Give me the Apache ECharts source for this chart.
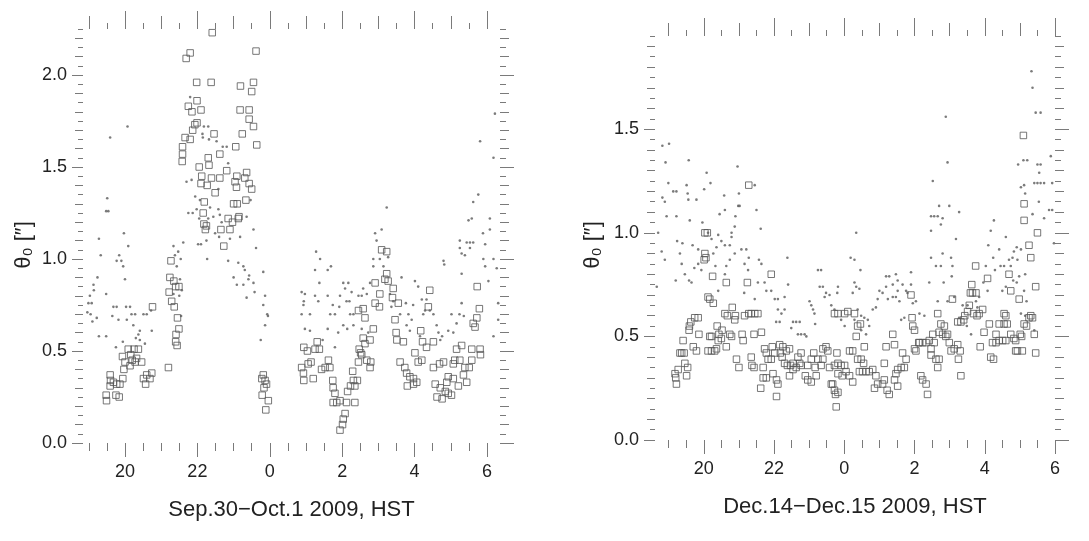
<!DOCTYPE html>
<html>
<head>
<meta charset="utf-8">
<script src="https://cdn.jsdelivr.net/npm/echarts@6/dist/echarts.min.js"></script>
<style>
  html, body { margin: 0; padding: 0; background: #fff; }
  #main { width: 1089px; height: 541px; }
</style>
</head>
<body>
<div id="main"></div>
<script>
// hours after midnight continue past 24 (24 = 0 HST, 30 = 6 HST)
var hourLabels = [20, 22, 24, 26, 28, 30];
var thetaLabels = [0, 0.5, 1.0, 1.5, 2.0];
var panelTitles = ['Sep.30\u2212Oct.1 2009, HST', 'Dec.14\u2212Dec.15 2009, HST'];
var yTitle = '\u03b8\u2080 [\u2033]';

// Sep.30-Oct.1, squares [hour, theta0]
var leftSquares = [
  [22.41,2.23],[21.69,2.09],[21.80,2.12],[21.98,1.96],[22.38,1.96],[21.99,1.86],[21.75,1.83],[22.10,1.81],[21.85,1.80],[21.99,1.74],
  [21.93,1.73],[21.87,1.70],[22.46,1.68],[21.66,1.66],[21.80,1.65],[21.59,1.61],[21.59,1.57],[21.58,1.53],[22.05,1.50],[22.32,1.51],
  [22.62,1.57],[22.30,1.55],[22.12,1.45],[22.39,1.44],[22.62,1.44],[22.81,1.48],[22.10,1.41],[22.27,1.40],[22.49,1.36],[22.19,1.31],
  [22.16,1.25],[22.25,1.18],[22.18,1.19],[22.22,1.16],[22.65,1.16],[22.90,1.16],[22.85,1.22],[22.97,1.20],[22.73,1.07],[23.06,1.61],
  [23.00,1.30],[23.10,1.30],[23.13,1.22],[23.18,1.81],[23.19,1.94],[23.43,1.81],[23.50,1.91],[23.55,1.96],[23.62,2.13],[23.43,1.76],
  [23.55,1.72],[23.24,1.68],[23.64,1.62],[23.09,1.45],[23.36,1.47],[23.31,1.44],[23.43,1.41],[23.50,1.38],[23.34,1.32],[23.04,1.42],
  [23.08,1.39],[23.15,1.23],
  [21.27,0.99],[21.24,0.90],[21.35,0.88],[21.49,0.85],[21.40,0.85],[21.22,0.82],[21.29,0.77],[21.36,0.74],[21.45,0.68],[21.49,0.62],
  [21.41,0.59],[21.40,0.55],[21.44,0.53],[21.20,0.41],
  [19.49,0.23],[19.48,0.26],[19.59,0.37],[19.60,0.34],[19.68,0.33],[19.77,0.32],[19.75,0.26],[19.84,0.25],[19.86,0.32],[19.94,0.35],
  [19.59,0.31],[19.97,0.40],[20.00,0.44],[19.93,0.47],[20.09,0.51],[20.16,0.48],[20.20,0.45],[20.28,0.44],[20.32,0.46],[20.37,0.51],
  [20.46,0.44],[20.51,0.35],[20.60,0.37],[20.69,0.35],[20.74,0.38],[20.57,0.32],[20.76,0.74],[20.25,0.51],[20.14,0.42],
  [23.82,0.37],[23.78,0.35],[23.87,0.34],[23.91,0.32],[23.84,0.30],[23.79,0.26],[23.96,0.23],[23.89,0.18],
  [24.88,0.41],[24.93,0.38],[24.94,0.34],[24.94,0.52],[25.04,0.50],[25.25,0.51],[25.31,0.55],[25.37,0.51],[25.06,0.43],[25.14,0.44],
  [25.20,0.35],[25.43,0.40],[25.53,0.41],[25.62,0.45],[25.66,0.41],[25.74,0.34],[25.75,0.30],[25.80,0.27],[25.75,0.22],[25.85,0.22],
  [25.94,0.23],[25.94,0.07],[26.01,0.10],[26.03,0.13],[26.08,0.16],[26.12,0.22],[26.15,0.28],[26.23,0.31],[26.31,0.34],[26.29,0.39],
  [26.35,0.31],[26.42,0.34],[26.35,0.22],[26.45,0.44],[26.47,0.51],[26.51,0.49],[26.63,0.54],[26.58,0.57],[26.77,0.56],[26.54,0.48],
  [26.68,0.45],[26.79,0.44],[26.77,0.41],[26.45,0.72],[26.58,0.73],[26.63,0.68],[26.86,0.62],[26.91,0.76],[27.03,0.74],[26.91,0.87],
  [27.04,0.81],[27.09,1.05],[27.23,1.04],[27.18,0.89],[27.27,0.88],[27.23,0.92],[27.41,0.84],[27.39,0.79],[27.55,0.76],[27.46,0.67],
  [27.51,0.56],[27.69,0.55],[27.49,0.60],[27.60,0.44],[27.73,0.41],[27.78,0.38],[27.87,0.36],[27.97,0.35],[27.80,0.31],[28.06,0.33],
  [27.97,0.32],[28.01,0.49],[28.10,0.44],[28.20,0.45],[28.17,0.61],[28.22,0.55],[28.33,0.52],[28.42,0.83],[28.38,0.74],[28.52,0.55],
  [28.52,0.41],[28.57,0.32],[28.62,0.25],[28.71,0.30],[28.76,0.24],[28.85,0.28],[28.89,0.33],[28.93,0.27],[29.02,0.26],[28.69,0.43],
  [28.80,0.44],[29.11,0.45],[29.25,0.45],[29.16,0.51],[29.30,0.53],[29.21,0.31],[29.39,0.41],[29.51,0.41],[29.35,0.37],[29.44,0.33],
  [29.58,0.45],[29.58,0.51],[29.62,0.65],[29.67,0.63],[29.72,0.68],[29.79,0.73],[29.73,0.85],[29.81,0.51],[29.82,0.48],[28.93,0.36],
  [29.07,0.35],[29.07,0.43]
];

// Sep.30-Oct.1, dots [hour, theta0]
var leftDots = [
  [19.59,1.66],[20.07,1.72],[19.51,1.33],[19.48,1.26],[19.54,1.26],[19.28,1.11],[19.33,1.02],[19.97,1.14],[20.09,1.07],[19.84,1.02],
  [19.90,0.99],[19.77,0.99],[19.95,0.96],[20.00,0.89],[19.24,0.90],[19.13,0.86],[19.03,0.80],[19.14,0.83],[18.99,0.76],[19.08,0.76],
  [18.96,0.71],[19.05,0.70],[19.22,0.68],[19.10,0.66],[19.28,0.58],[19.48,0.58],[19.48,0.81],[19.68,0.74],[19.77,0.74],[19.65,0.69],
  [19.82,0.67],[19.75,0.52],[20.03,0.74],[20.14,0.74],[20.18,0.70],[20.28,0.70],[20.05,0.67],[20.23,0.64],[20.41,0.61],[20.30,0.57],
  [20.51,0.70],[20.60,0.70],[20.72,0.72],[20.74,0.61],[20.41,0.56],[20.37,0.59],[20.55,0.54],[19.94,0.55],
  [21.34,1.07],[21.38,1.02],[21.54,1.00],[21.43,0.96],[21.52,0.89],[21.57,0.83],[21.50,0.80],[21.47,1.04],[21.34,0.81],[21.55,0.69],
  [21.80,1.88],[22.18,1.72],[22.30,1.72],[22.14,1.68],[22.32,1.65],[22.53,1.64],[22.70,1.61],[21.84,1.43],[21.70,1.42],[21.94,1.34],
  [22.07,1.32],[21.75,1.25],[21.87,1.25],[21.98,1.27],[22.05,1.22],[22.35,1.28],[22.44,1.23],[22.58,1.27],[22.30,1.22],[22.49,1.14],
  [22.60,1.12],[22.25,1.10],[22.02,1.08],[22.10,1.08],[21.61,1.09],[22.27,1.00],[22.85,0.99],[23.13,0.98],[23.00,0.90],[23.09,0.86],
  [23.27,0.96],[23.31,0.94],[23.43,0.91],[23.41,0.89],[23.55,0.87],[23.27,0.86],[23.36,0.79],[23.58,0.82],[23.82,0.93],[23.62,1.06],
  [23.55,1.16],[23.36,1.23],[23.47,1.32],[23.18,1.12],[22.67,1.20],[22.90,1.11],[22.85,1.52],[22.81,1.61],[22.58,1.38],[22.15,1.66],
  [22.62,1.24],
  [23.87,0.80],[23.82,0.75],[23.93,0.70],[23.95,0.69],[23.87,0.64],[23.75,0.56],
  [25.28,1.04],[25.39,1.00],[24.88,0.82],[24.97,0.81],[24.94,0.77],[24.93,0.75],[25.11,0.70],[24.88,0.70],[24.97,0.62],[25.11,0.61],
  [25.25,0.80],[25.34,0.77],[25.37,0.87],[25.25,0.94],[25.60,0.94],[25.69,0.96],[25.60,0.80],[25.74,0.75],[25.67,0.70],[25.80,0.70],
  [25.60,0.62],[25.89,0.60],[25.46,0.56],[25.80,0.52],[26.03,0.87],[26.17,0.87],[26.08,0.84],[25.94,0.80],[25.92,0.74],[26.12,0.77],
  [26.26,0.82],[26.20,0.77],[26.31,0.70],[26.22,0.70],[26.03,0.64],[26.14,0.62],[26.31,0.64],[26.45,0.80],[26.54,0.80],[26.58,0.84],
  [26.68,0.81],[26.54,0.62],[26.72,0.60],[26.77,0.87],[26.86,0.96],[26.91,1.14],[27.09,1.16],[26.95,1.10],[26.86,1.00],[27.04,1.00],
  [27.27,1.01],[27.23,1.28],[27.14,0.96],[27.32,0.81],[27.36,0.74],[27.60,0.70],[27.64,0.90],[27.41,0.77],[27.76,0.76],[27.83,0.70],
  [27.92,0.67],[27.96,0.75],[27.78,0.64],[27.87,0.61],[28.01,0.88],[28.10,0.85],[28.20,0.78],[28.24,0.70],[28.33,0.78],[28.42,0.72],
  [28.15,0.58],[28.29,0.72],[28.52,0.70],[28.61,0.64],[28.66,0.60],[28.76,0.58],[28.80,0.99],[28.82,0.97],[28.71,0.56],[28.93,0.61],
  [29.02,0.70],[29.07,0.60],[29.16,0.65],[29.24,0.70],[29.30,0.76],[29.36,0.69],[29.30,0.92],[29.25,1.06],[29.30,1.03],[29.39,1.02],
  [29.25,1.10],[29.44,1.09],[29.53,1.09],[29.62,1.09],[29.49,1.21],[29.58,1.22],[29.62,1.31],[29.76,1.35],[29.81,1.64],[29.53,1.06],
  [29.89,1.14],[29.95,1.08],[29.90,1.00],[30.08,1.22],[30.08,1.16],[30.04,0.88],[29.95,0.96],[30.18,1.00],[30.22,1.79],[30.27,0.95],
  [30.31,0.76],[30.18,0.58],[30.31,0.67],[30.18,1.55]
];

// Dec.14-Dec.15, squares [hour, theta0]
var rightSquares = [
  [19.18,0.32],[19.20,0.30],[19.22,0.27],[19.27,0.34],[19.41,0.48],[19.32,0.42],[19.37,0.42],[19.44,0.42],[19.46,0.37],[19.51,0.31],
  [19.54,0.35],[19.58,0.53],[19.59,0.55],[19.63,0.57],[19.74,0.59],[19.84,0.59],[19.70,0.45],[19.79,0.43],[19.86,0.51],[20.03,1.00],
  [20.10,1.00],[20.03,0.90],[20.06,0.88],[20.01,0.87],[20.12,0.69],[20.17,0.68],[20.25,0.79],[20.27,0.66],[20.17,0.50],[20.22,0.50],
  [20.12,0.43],[20.22,0.43],[20.36,0.44],[20.31,0.43],[20.41,0.48],[20.50,0.49],[20.43,0.51],[20.52,0.53],[20.38,0.55],[20.60,0.61],
  [20.67,0.60],[20.64,0.76],[20.64,0.45],[20.74,0.51],[20.79,0.50],[20.81,0.64],[20.88,0.58],[20.90,0.60],[20.93,0.39],[21.00,0.35],
  [21.09,0.51],[21.12,0.48],[21.16,0.60],[21.28,0.61],[21.35,0.61],[21.24,0.76],[21.45,0.61],[21.54,0.61],[21.28,1.23],[21.35,0.40],
  [21.43,0.51],[21.64,0.52],[21.37,0.36],[21.43,0.35],[21.62,0.25],[21.73,0.44],[21.78,0.42],[21.83,0.39],[21.69,0.30],[21.78,0.30],
  [21.69,0.35],[21.92,0.80],[21.95,0.45],[22.02,0.42],[21.92,0.39],[21.97,0.32],[22.07,0.29],[22.11,0.27],[22.07,0.21],[22.16,0.46],
  [22.25,0.45],[22.35,0.43],[22.44,0.44],[22.18,0.42],[22.23,0.40],[22.30,0.37],[22.38,0.36],[22.47,0.36],[22.54,0.37],[22.44,0.31],
  [22.54,0.34],[22.63,0.35],[22.73,0.37],[22.77,0.36],[22.68,0.40],[22.77,0.42],[22.89,0.31],[22.96,0.29],[22.96,0.36],[23.06,0.39],
  [23.13,0.42],[23.17,0.35],[23.06,0.28],[23.20,0.31],[23.25,0.39],[23.34,0.36],[23.39,0.44],[23.39,0.39],[23.48,0.45],[23.53,0.43],
  [23.58,0.35],[23.63,0.27],[23.67,0.27],[23.72,0.24],[23.75,0.22],[23.82,0.23],[23.77,0.16],[23.79,0.42],[23.72,0.36],[23.82,0.37],
  [23.91,0.36],[24.01,0.36],[23.82,0.32],[23.94,0.31],[24.05,0.33],[24.15,0.31],[24.24,0.28],[23.72,0.61],[23.82,0.61],[24.01,0.61],
  [24.10,0.62],[24.29,0.61],[24.15,0.43],[24.24,0.43],[24.34,0.50],[24.38,0.55],[24.46,0.56],[24.38,0.39],[24.48,0.39],[24.55,0.37],
  [24.57,0.45],[24.43,0.33],[24.52,0.33],[24.62,0.33],[24.71,0.33],[24.81,0.34],[24.90,0.31],[24.86,0.25],[24.95,0.27],[25.09,0.27],
  [25.14,0.29],[25.14,0.37],[25.19,0.45],[25.22,0.24],[25.28,0.22],[25.38,0.51],[25.43,0.46],[25.43,0.29],[25.47,0.32],[25.52,0.34],
  [25.62,0.35],[25.52,0.26],[25.66,0.42],[25.71,0.35],[25.76,0.39],[25.90,0.70],[25.95,0.55],[26.00,0.53],[25.93,0.59],[26.00,0.44],
  [26.04,0.43],[26.12,0.47],[26.14,0.47],[26.23,0.47],[26.33,0.47],[26.18,0.31],[26.23,0.29],[26.33,0.27],[26.37,0.22],[26.42,0.48],
  [26.52,0.51],[26.47,0.44],[26.56,0.47],[26.47,0.41],[26.61,0.39],[26.70,0.39],[26.66,0.35],[26.66,0.61],[26.70,0.52],[26.80,0.51],
  [26.89,0.50],[26.75,0.56],[26.85,0.55],[26.94,0.51],[26.99,0.47],[27.04,0.43],[27.13,0.44],[27.08,0.68],[27.23,0.46],[27.25,0.39],
  [27.32,0.31],[27.23,0.57],[27.32,0.57],[27.40,0.58],[27.30,0.43],[27.43,0.60],[27.56,0.65],[27.59,0.71],[27.65,0.71],[27.75,0.71],
  [27.51,0.62],[27.63,0.75],[27.74,0.84],[27.68,0.61],[27.78,0.60],[27.87,0.45],[27.84,0.61],[27.94,0.63],[27.98,0.52],[28.08,0.78],
  [28.13,0.56],[28.17,0.40],[28.25,0.39],[28.22,0.47],[28.32,0.47],[28.41,0.48],[28.51,0.48],[28.60,0.48],[28.32,0.51],[28.41,0.56],
  [28.55,0.56],[28.64,0.56],[28.55,0.61],[28.60,0.60],[28.69,0.80],[28.74,0.72],[28.74,0.51],[28.83,0.49],[28.88,0.48],[28.88,0.43],
  [28.98,0.68],[29.01,0.51],[29.05,0.50],[28.93,0.43],[29.07,0.43],[29.10,1.47],[29.12,1.14],[29.12,1.06],[29.26,0.94],[29.31,0.88],
  [29.31,0.60],[29.26,0.59],[29.36,0.59],[29.19,0.55],[29.41,0.51],[29.45,0.74],[29.45,0.42],[29.50,1.00],[29.12,0.56]
];

// Dec.14-Dec.15, dots [hour, theta0]
var rightDots = [
  [18.82,1.42],[19.01,1.43],[18.91,1.34],[18.99,1.24],[18.82,1.17],[18.89,1.15],[19.13,1.20],[19.22,1.20],[18.94,1.08],[19.22,1.08],
  [18.70,1.00],[18.80,0.91],[18.89,0.87],[18.66,0.74],[19.24,0.96],[19.32,0.90],[19.39,0.95],[19.37,0.85],[19.46,0.80],[19.20,0.77],
  [19.57,1.35],[19.51,1.23],[19.54,1.19],[19.56,1.16],[19.60,1.06],[19.68,0.94],[19.79,1.16],[19.84,0.92],[19.58,0.77],[19.65,0.76],
  [19.73,0.83],[19.84,0.85],[19.93,0.82],[19.96,1.05],[20.01,1.21],[20.08,1.29],[20.19,1.24],[20.12,1.00],[20.22,0.97],[20.27,0.90],
  [20.36,0.93],[20.33,0.84],[20.41,0.99],[20.45,1.09],[20.58,1.18],[20.60,1.11],[20.50,0.96],[20.60,0.94],[20.64,0.84],[20.74,0.87],
  [20.41,0.72],[20.60,0.80],[20.79,0.98],[20.74,0.94],[20.79,1.00],[20.88,1.03],[20.88,0.90],[20.96,1.32],[20.98,1.13],[21.02,1.13],
  [21.00,1.19],[20.90,1.08],[21.07,0.92],[21.16,0.85],[21.26,0.82],[21.15,0.71],[21.21,0.92],[21.28,0.88],[21.45,1.23],[21.50,1.11],
  [21.62,1.02],[21.57,0.87],[21.64,0.85],[21.54,0.76],[21.73,0.76],[21.45,0.68],[21.78,0.72],[21.92,0.72],[22.02,0.68],[22.11,0.68],
  [22.30,0.69],[22.38,0.88],[22.11,0.63],[22.21,0.61],[22.30,0.63],[22.06,0.57],[22.16,0.57],[22.40,0.75],[22.54,0.57],[22.63,0.57],
  [22.73,0.57],[22.49,0.54],[22.68,0.51],[22.77,0.51],[22.87,0.51],[22.92,0.50],[23.01,0.67],[23.06,0.65],[23.11,0.63],[23.15,0.61],
  [23.17,0.56],[23.30,0.74],[23.39,0.74],[23.25,0.82],[23.34,0.82],[23.44,0.69],[23.48,0.71],[23.58,0.70],[23.63,0.65],[23.80,0.71],
  [23.82,0.74],[23.72,0.63],[23.91,0.58],[24.01,0.55],[24.18,0.88],[24.29,0.87],[24.34,1.00],[24.46,0.82],[24.29,0.76],[24.34,0.74],
  [24.43,0.73],[24.24,0.71],[24.38,0.63],[24.48,0.60],[24.29,0.58],[24.57,0.59],[24.67,0.58],[24.48,0.53],[24.62,0.51],[24.71,0.55],
  [24.81,0.63],[24.90,0.64],[24.95,0.68],[25.00,0.72],[25.09,0.71],[25.19,0.79],[25.28,0.79],[25.38,0.75],[25.47,0.80],[25.52,0.77],
  [25.19,0.74],[25.24,0.68],[25.38,0.69],[25.47,0.69],[25.52,0.72],[25.57,0.67],[25.66,0.75],[25.76,0.72],[25.80,0.71],[25.90,0.81],
  [25.90,0.75],[25.95,0.66],[26.04,0.67],[26.14,0.61],[26.28,0.60],[25.62,0.58],[25.71,0.59],[26.47,1.08],[26.56,1.08],[26.66,1.08],
  [26.47,1.01],[26.52,1.25],[26.47,0.88],[26.61,0.84],[26.70,1.13],[26.75,1.04],[26.80,1.07],[26.89,1.56],[26.94,1.34],[26.99,1.13],
  [26.80,0.90],[26.83,0.76],[26.94,0.67],[26.75,0.84],[26.66,0.67],[26.42,0.76],[27.04,0.88],[27.08,0.84],[27.06,0.79],[27.18,0.97],
  [27.27,1.10],[27.13,0.69],[27.37,0.65],[27.27,0.59],[27.51,0.65],[27.49,0.55],[27.61,0.51],[27.75,0.67],[27.79,0.64],[27.84,0.69],
  [27.96,0.76],[28.03,0.84],[28.10,0.94],[28.17,1.01],[28.26,1.06],[28.24,0.88],[28.08,0.72],[28.29,0.82],[28.41,0.92],[28.45,0.84],
  [28.55,0.84],[28.50,0.72],[28.60,0.74],[28.60,0.98],[28.69,0.87],[28.79,0.88],[28.74,0.84],[28.83,0.91],[28.91,0.93],[28.93,0.87],
  [28.81,0.77],[28.98,0.79],[29.03,0.92],[28.91,0.76],[28.95,1.33],[29.10,1.35],[29.21,1.35],[29.03,1.22],[29.12,1.23],[29.15,1.19],
  [29.33,1.78],[29.36,1.70],[29.45,1.58],[29.59,1.58],[29.50,1.33],[29.55,1.29],[29.59,1.33],[29.41,1.24],[29.50,1.24],[29.59,1.24],
  [29.69,1.24],[29.54,1.15],[29.36,1.09],[29.69,1.07],[29.83,1.11],[29.88,1.37],[29.92,1.24],[29.92,1.11],[29.97,0.95],[29.15,0.80],
  [29.12,0.72],[29.19,0.67],[29.03,0.61],[29.15,0.60],[29.41,0.53]
];

var FONT = 'Liberation Sans, Arial, Helvetica, sans-serif';
var TICK_COLOR = '#7a7a7a';
var INK = '#555';

function steps(from, to, step) {
  var out = [];
  for (var v = from; v <= to + 1e-9; v += step) out.push(Math.round(v * 100) / 100);
  return out;
}
function without(list, drop) {
  return list.filter(function (v) {
    return drop.every(function (d) { return Math.abs(d - v) > 1e-6; });
  });
}

// a tick-only axis (no line), stacked several times to get IDL-like tick lengths
function tickAxis(grid, pos, min, max, ticks, len, extra) {
  var ax = {
    type: 'value', gridIndex: grid, position: pos, min: min, max: max,
    axisLine: { show: false, onZero: false },
    splitLine: { show: false },
    axisTick: { show: true, inside: false, length: len, customValues: ticks,
                lineStyle: { color: TICK_COLOR, width: 1 } },
    axisLabel: { show: false }
  };
  return Object.assign(ax, extra || {});
}

function xAxesFor(grid, min, max, title) {
  var halves = steps(19, Math.floor(max * 2) / 2, 0.5);
  var evens = hourLabels.filter(function (h) { return h <= max; });
  var odds = steps(19, max, 1).filter(function (h) { return h % 2 === 1; });
  return [
    tickAxis(grid, 'bottom', min, max, evens, 14, {
      axisLabel: { show: true, customValues: evens, margin: 20, color: '#222',
                   fontFamily: FONT, fontSize: 18,
                   formatter: function (v) { return String(v % 24); } },
      name: title, nameLocation: 'middle', nameGap: 56,
      nameTextStyle: { color: '#222', fontFamily: FONT, fontSize: 22 }
    }),
    tickAxis(grid, 'bottom', min, max, without(halves, evens), 8),
    tickAxis(grid, 'top', min, max, evens, 18),
    tickAxis(grid, 'top', min, max, odds, 13),
    tickAxis(grid, 'top', min, max, without(halves, evens.concat(odds)), 6)
  ];
}

function yAxesFor(grid, max, labels) {
  var fine = steps(0, max, 0.05);
  var tenths = steps(0, max, 0.1);
  var major = labels.filter(function (v) { return v <= max; });
  var mid = without(tenths, major);
  var small = without(fine, tenths);
  return [
    tickAxis(grid, 'left', 0, max, major, 11, {
      axisLabel: { show: true, customValues: major, margin: 16, color: '#222',
                   fontFamily: FONT, fontSize: 18,
                   formatter: function (v) { return v.toFixed(1); } }
    }),
    tickAxis(grid, 'left', 0, max, mid, 8),
    tickAxis(grid, 'left', 0, max, small, 5),
    tickAxis(grid, 'right', 0, max, major, 14),
    tickAxis(grid, 'right', 0, max, mid, 9),
    tickAxis(grid, 'right', 0, max, small, 6)
  ];
}

var xAxes = xAxesFor(0, 18.84, 30.36, panelTitles[0]).concat(xAxesFor(1, 18.61, 30.0, panelTitles[1]));
var yAxes = yAxesFor(0, 2.25, thetaLabels).concat(yAxesFor(1, 1.95, thetaLabels));

function squares(data, grid) {
  return {
    type: 'scatter', data: data, xAxisIndex: grid * 5, yAxisIndex: grid * 6,
    symbol: 'rect', symbolSize: 6.5, clip: true,
    itemStyle: { color: 'rgba(255,255,255,0)', borderColor: INK, borderWidth: 1 }
  };
}
function dots(data, grid) {
  return {
    type: 'scatter', data: data, xAxisIndex: grid * 5, yAxisIndex: grid * 6,
    symbol: 'circle', symbolSize: 2.6, clip: true,
    itemStyle: { color: '#5a5a5a' }
  };
}

// rotated y titles, placed by hand (centre of the text)
function yName(x, y) {
  return {
    type: 'text', x: x, y: y, rotation: Math.PI / 2,
    style: { text: yTitle, fill: '#222', font: '22px ' + FONT,
             align: 'center', verticalAlign: 'middle' }
  };
}

var chart = echarts.init(document.getElementById('main'), null, { renderer: 'canvas' });
chart.setOption({
  backgroundColor: '#fff',
  animation: false,
  grid: [
    { left: 83, top: 29, width: 417, height: 414 },
    { left: 655, top: 36, width: 400, height: 404 }
  ],
  xAxis: xAxes,
  yAxis: yAxes,
  graphic: [yName(24, 245), yName(593, 245)],
  series: [
    squares(leftSquares, 0), dots(leftDots, 0),
    squares(rightSquares, 1), dots(rightDots, 1)
  ]
});
</script>
</body>
</html>
